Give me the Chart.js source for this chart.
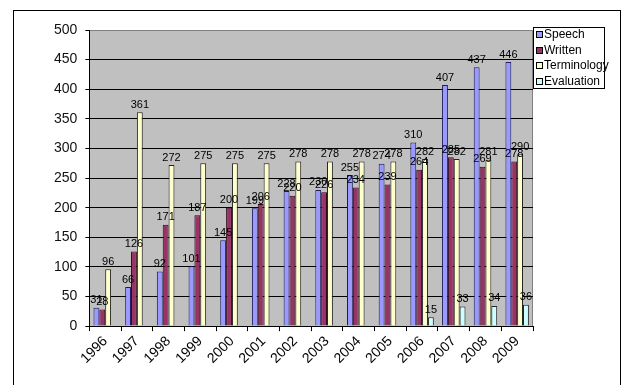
<!DOCTYPE html>
<html>
<head>
<meta charset="utf-8">
<script src="https://cdn.jsdelivr.net/npm/chart.js@4"></script>
<style>
  html, body { margin: 0; padding: 0; background: #fff; }
  #wrap { width: 623px; height: 385px; position: relative; }
</style>
</head>
<body>
<div id="wrap"><canvas id="chart" width="623" height="385"></canvas></div>
<script>
// 데이터
var years = ['1996', '1997', '1998', '1999', '2000', '2001', '2002', '2003', '2004', '2005', '2006', '2007', '2008', '2009'];
var speech = [31, 66, 92, 101, 145, 199, 228, 230, 255, 274, 310, 407, 437, 446];
var written = [28, 126, 171, 187, 200, 206, 220, 226, 234, 239, 264, 285, 269, 278];
var terminology = [96, 361, 272, 275, 275, 275, 278, 278, 278, 278, 282, 282, 281, 290];
var evaluation = [null, null, null, null, null, null, null, null, null, null, 15, 33, 34, 36];
var yTicks = [0, 50, 100, 150, 200, 250, 300, 350, 400, 450, 500];

// 배경 + 바깥 테두리
var frame = {
  id: 'frame',
  beforeDraw: function(chart) {
    var c = chart.ctx, a = chart.chartArea;
    c.save();
    c.fillStyle = '#fff';
    c.fillRect(0, 0, chart.width, chart.height);
    c.strokeStyle = '#000';
    c.lineWidth = 1;
    c.strokeRect(13.5, 10.5, 607, 400);
    c.fillStyle = '#c0c0c0';
    c.fillRect(a.left, a.top, a.right - a.left, a.bottom - a.top);
    c.strokeStyle = '#808080';
    c.beginPath();
    c.moveTo(a.left, a.top + 0.5);
    c.lineTo(a.right - 0.5, a.top + 0.5);
    c.lineTo(a.right - 0.5, a.bottom);
    c.stroke();
    c.restore();
  }
};

// 막대 위 값 표시
var valueLabels = {
  id: 'valueLabels',
  afterDatasetsDraw: function(chart) {
    var c = chart.ctx;
    c.save();
    c.font = '11px Arial, "Liberation Sans"';
    c.fillStyle = '#000';
    c.textAlign = 'center';
    c.textBaseline = 'bottom';
    chart.data.datasets.forEach(function(ds, i) {
      chart.getDatasetMeta(i).data.forEach(function(bar, j) {
        var v = ds.data[j];
        if (v === null) return;
        c.fillText(String(v), bar.x, bar.y - 2);
      });
    });
    c.restore();
  }
};

// 범례 박스
var boxLegend = {
  id: 'boxLegend',
  afterDraw: function(chart) {
    var c = chart.ctx;
    var x = 533.5, y = 27.5, w = 71, h = 61;
    c.save();
    c.fillStyle = '#fff';
    c.fillRect(x, y, w, h);
    c.strokeStyle = '#000';
    c.lineWidth = 1;
    c.strokeRect(x, y, w, h);
    c.font = '12px Arial, "Liberation Sans"';
    c.textBaseline = 'middle';
    c.textAlign = 'left';
    chart.data.datasets.forEach(function(ds, i) {
      var cy = 35 + i * 15.5;
      c.fillStyle = ds.backgroundColor;
      c.fillRect(536.5, Math.round(cy) - 3.5, 6, 6);
      c.strokeStyle = '#000';
      c.strokeRect(536.5, Math.round(cy) - 3.5, 6, 6);
      c.fillStyle = '#000';
      c.fillText(ds.label, 544, cy);
    });
    c.restore();
  }
};

var ctx = document.getElementById('chart').getContext('2d');
var chart = new Chart(ctx, {
  type: 'bar',
  data: {
    labels: years,
    datasets: [
      { label: 'Speech', data: speech, backgroundColor: '#9999ff', borderColor: '#1c1c5c', borderWidth: 1 },
      { label: 'Written', data: written, backgroundColor: '#993366', borderColor: '#2a0a1a', borderWidth: 1 },
      { label: 'Terminology', data: terminology, backgroundColor: '#ffffcc', borderColor: '#222', borderWidth: 1 },
      { label: 'Evaluation', data: evaluation, backgroundColor: '#ccffff', borderColor: '#222', borderWidth: 1 }
    ]
  },
  options: {
    responsive: false,
    animation: false,
    events: [],
    layout: { padding: { left: 46, top: 30, right: 90, bottom: 16 } },
    datasets: { bar: { categoryPercentage: 0.74, barPercentage: 1.0 } },
    plugins: {
      legend: { display: false },
      tooltip: { enabled: false }
    },
    scales: {
      x: {
        grid: { drawOnChartArea: false, drawTicks: true, tickLength: 5, color: '#000' },
        border: { color: '#000' },
        ticks: {
          font: { family: 'Arial, "Liberation Sans"', size: 14 },
          color: '#000',
          maxRotation: 45,
          minRotation: 45,
          padding: 2
        }
      },
      y: {
        min: 0,
        max: 500,
        afterBuildTicks: function(scale) {
          scale.ticks = yTicks.map(function(v) { return { value: v }; });
        },
        grid: {
          color: function(c) { return c.tick && c.tick.value === 500 ? 'rgba(0,0,0,0)' : '#000'; },
          tickColor: '#000',
          tickLength: 4
        },
        border: { color: '#000' },
        ticks: {
          font: { family: 'Arial, "Liberation Sans"', size: 14 },
          color: '#111',
          padding: 8
        }
      }
    }
  },
  plugins: [frame, valueLabels, boxLegend]
});
</script>
</body>
</html>
